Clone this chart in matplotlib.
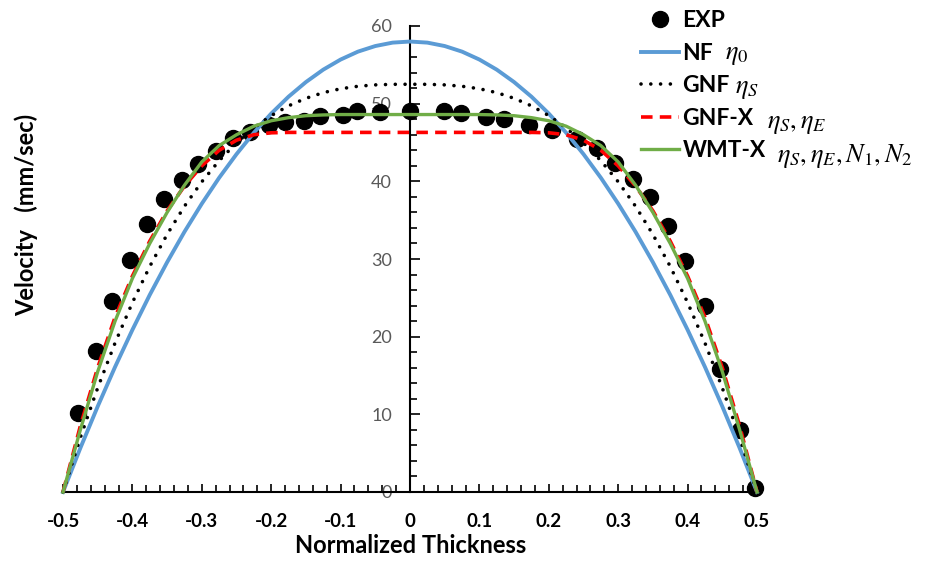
import numpy as np
import matplotlib
matplotlib.use("Agg")
import matplotlib.pyplot as plt
from matplotlib.ticker import MultipleLocator

plt.rcParams['font.family'] = ['Lato', 'DejaVu Sans']
plt.rcParams['mathtext.fontset'] = 'stix'

# measured points
exp_x = [-0.479, -0.453, -0.430, -0.403, -0.379, -0.354, -0.328, -0.306, -0.280, -0.255,
         -0.231, -0.203, -0.180, -0.153, -0.130, -0.096, -0.076, -0.043, 0.000, 0.049,
         0.074, 0.109, 0.135, 0.172, 0.204, 0.240, 0.270, 0.295, 0.321, 0.346,
         0.372, 0.396, 0.425, 0.447, 0.476, 0.497]
exp_v = [10.2, 18.2, 24.6, 29.9, 34.5, 37.7, 40.2, 42.2, 43.9, 45.6,
         46.3, 47.2, 47.7, 47.8, 48.4, 48.5, 49.0, 48.9, 49.0, 49.0,
         48.8, 48.3, 48.0, 47.3, 46.6, 45.5, 44.3, 42.3, 40.3, 38.0,
         34.2, 29.7, 23.9, 15.9, 8.0, 0.5]

# model curves, read at steps of 0.025
thick = [-0.5, -0.475, -0.45, -0.425, -0.4, -0.375, -0.35, -0.325, -0.3, -0.275,
         -0.25, -0.225, -0.2, -0.175, -0.15, -0.125, -0.1, -0.075, -0.05, -0.025,
         0.0, 0.025, 0.05, 0.075, 0.1, 0.125, 0.15, 0.175, 0.2, 0.225,
         0.25, 0.275, 0.3, 0.325, 0.35, 0.375, 0.4, 0.425, 0.45, 0.475, 0.5]
nf = [0, 5.66, 11.02, 16.10, 20.88, 25.38, 29.58, 33.50, 37.12, 40.46,
      43.50, 46.26, 48.72, 50.90, 52.78, 54.38, 55.68, 56.70, 57.42, 57.86,
      58.00, 57.86, 57.42, 56.70, 55.68, 54.38, 52.78, 50.90, 48.72, 46.26,
      43.50, 40.46, 37.12, 33.50, 29.58, 25.38, 20.88, 16.10, 11.02, 5.66, 0]
gnf = [0, 7.02, 13.41, 19.19, 24.39, 29.04, 33.16, 36.79, 39.94, 42.66,
       44.96, 46.89, 48.46, 49.72, 50.69, 51.42, 51.92, 52.24, 52.42, 52.49,
       52.50, 52.49, 52.42, 52.24, 51.92, 51.42, 50.69, 49.72, 48.46, 46.89,
       44.96, 42.66, 39.94, 36.79, 33.16, 29.04, 24.39, 19.19, 13.41, 7.02, 0]
gnfx = [0, 8.5, 16.0, 22.5, 27.8, 32.3, 36.2, 39.4, 42.0, 44.0,
        45.3, 46.0, 46.25, 46.3, 46.3, 46.3, 46.3, 46.3, 46.3, 46.3,
        46.3, 46.3, 46.3, 46.3, 46.3, 46.3, 46.3, 46.3, 46.25, 46.0,
        45.3, 44.0, 42.0, 39.4, 36.2, 32.3, 27.8, 22.5, 16.0, 8.5, 0]
wmtx = [0, 8.0, 15.5, 22.0, 27.5, 32.0, 36.0, 39.5, 42.5, 44.6,
        46.0, 47.1, 47.8, 48.2, 48.45, 48.55, 48.6, 48.6, 48.6, 48.6,
        48.6, 48.6, 48.6, 48.6, 48.6, 48.55, 48.45, 48.2, 47.8, 47.1,
        46.0, 44.6, 42.5, 39.5, 36.0, 32.0, 27.5, 22.0, 15.5, 8.0, 0]

xticks = [-0.5, -0.4, -0.3, -0.2, -0.1, 0, 0.1, 0.2, 0.3, 0.4, 0.5]
xticklabels = ['-0.5', '-0.4', '-0.3', '-0.2', '-0.1', '0', '0.1', '0.2', '0.3', '0.4', '0.5']

names = ['EXP', 'NF', 'GNF', 'GNF-X', 'WMT-X']
params = ['', '$\\eta_0$', '$\\eta_S$', '$\\eta_S,\\eta_E$', '$\\eta_S,\\eta_E,N_1,N_2$']

fig = plt.figure(figsize=(9.35, 5.65), dpi=100)
ax = fig.add_axes([63/935, 1 - 492/565, 694/935, 466/565])

p_exp, = ax.plot(exp_x, exp_v, 'o', color='black', markersize=11.5, zorder=2, clip_on=False)
l_nf, = ax.plot(thick, nf, color='#5B9BD5', lw=2.8, zorder=3, clip_on=False)
l_gnf, = ax.plot(thick, gnf, color='black', lw=2.6, linestyle=(0, (0.01, 2.7)),
                 dash_capstyle='round', zorder=3, clip_on=False)
l_gnfx, = ax.plot(thick, gnfx, color='#FF0000', lw=2.6, linestyle=(0, (3.2, 2.0)),
                  zorder=4, clip_on=False)
l_wmt, = ax.plot(thick, wmtx, color='#70AD47', lw=2.4, zorder=5, clip_on=False)

ax.set_xlim(-0.5, 0.5)
ax.set_ylim(0, 60)
for s in ['top', 'right']:
    ax.spines[s].set_visible(False)
ax.spines['left'].set_position(('data', 0))
ax.spines['bottom'].set_position(('data', 0))
ax.spines['left'].set_linewidth(1.5)
ax.spines['bottom'].set_linewidth(1.5)

ax.set_xticks(xticks)
ax.set_xticklabels(xticklabels)
ax.xaxis.set_minor_locator(MultipleLocator(0.02))
ax.yaxis.set_major_locator(MultipleLocator(10))
ax.yaxis.set_minor_locator(MultipleLocator(2))
ax.tick_params(axis='x', which='both', direction='in', width=1.2)
ax.tick_params(axis='x', which='major', length=6, pad=15, labelsize=13.5)
ax.tick_params(axis='x', which='minor', length=5)
ax.tick_params(axis='y', which='both', direction='in', width=1.2)
ax.tick_params(axis='y', which='major', length=7, pad=13, labelsize=13, labelcolor='#595959')
ax.tick_params(axis='y', which='minor', length=5)
for t in ax.get_xticklabels():
    t.set_fontweight('bold')

fig.text(26/935, 1 - 215/565, 'Velocity   (mm/sec)', rotation=90, ha='center', va='center',
         fontsize=17, fontweight='bold')
fig.text(411/935, 1 - 553/565, 'Normalized Thickness', ha='center', va='baseline',
         fontsize=17, fontweight='bold')

fig.legend([p_exp, l_nf, l_gnf, l_gnfx, l_wmt], names, loc='upper left',
           bbox_to_anchor=(632/935, 1 - 1/565), frameon=False, handlelength=1.65,
           handletextpad=0.15, labelspacing=0.5, borderaxespad=0,
           prop=dict(weight='bold', size=16.5))

# parameter symbols next to the legend entries
math_x = [0, 725, 735, 767, 777]
row_y = [18, 52, 86, 121, 155]
for i in range(1, 5):
    fig.text(math_x[i]/935, 1 - (row_y[i] + 7)/565, params[i], fontsize=19,
             ha='left', va='baseline')

fig.savefig('out.png', dpi=100)
